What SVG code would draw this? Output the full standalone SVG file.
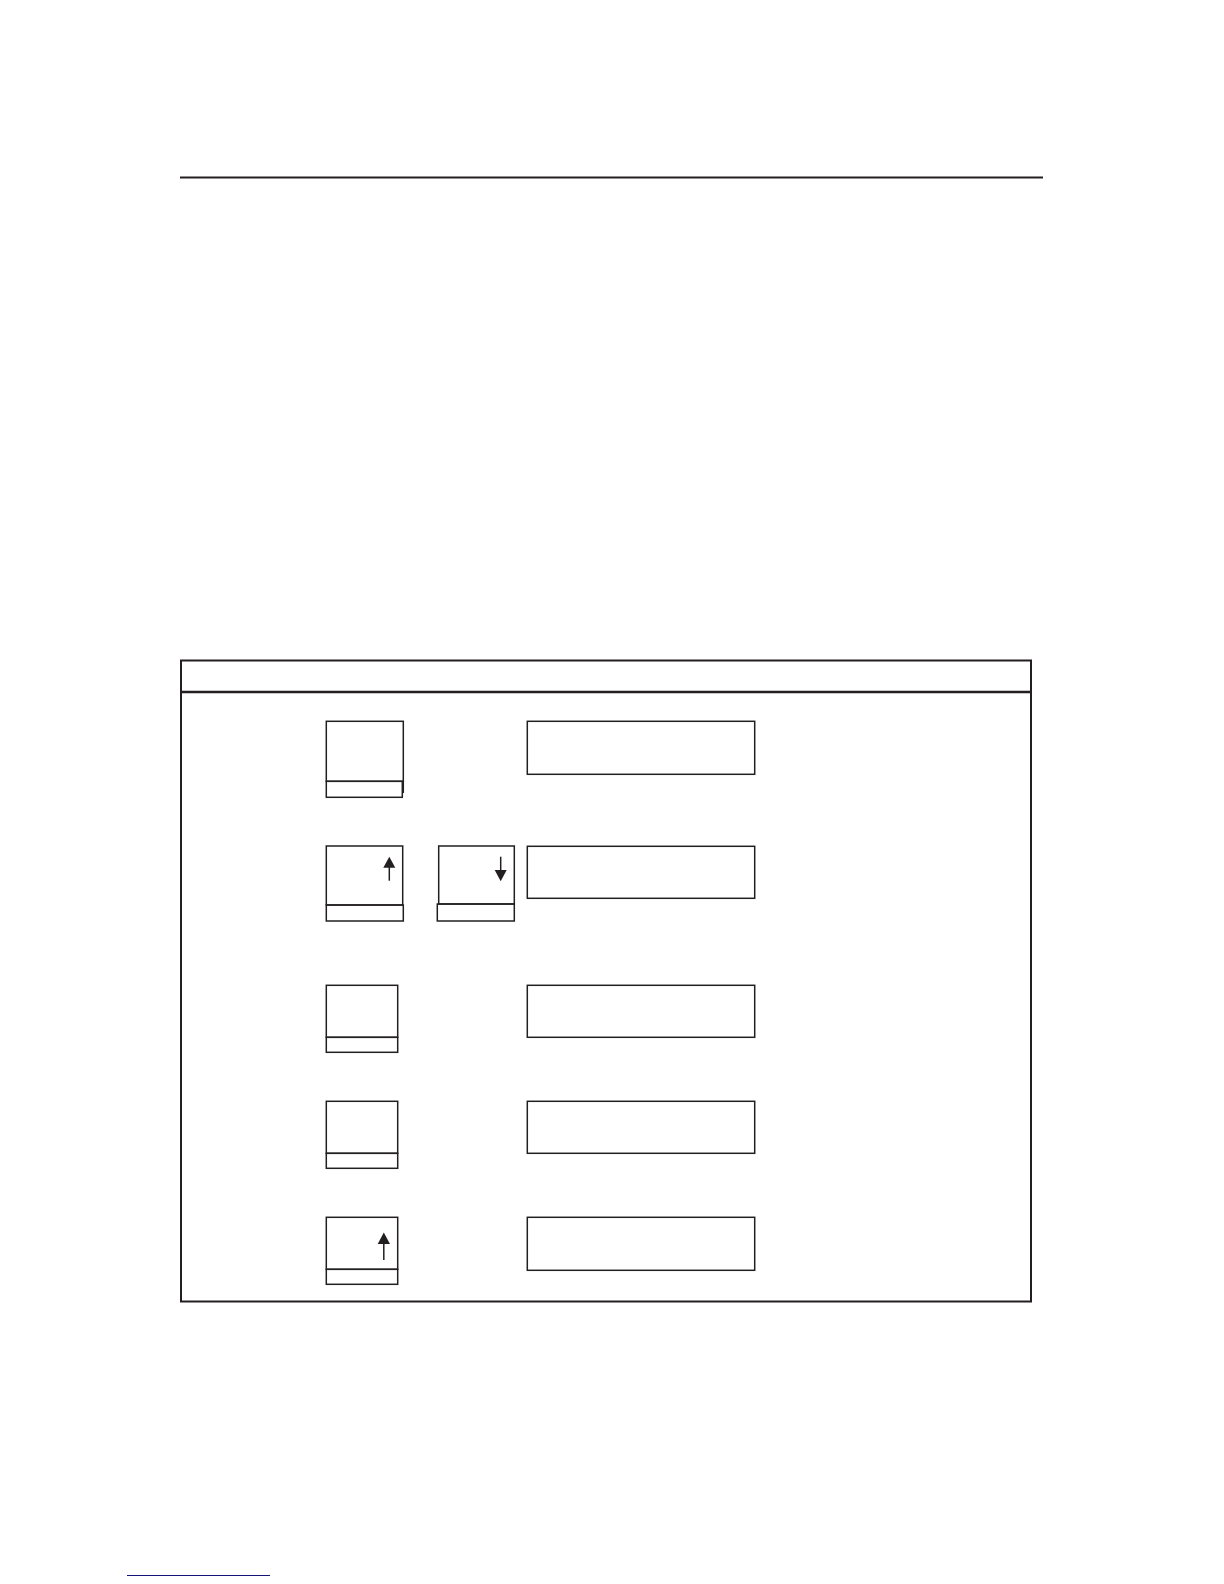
<svg xmlns="http://www.w3.org/2000/svg" width="1224" height="1584" viewBox="0 0 1224 1584">
<style>
.b{fill:none;stroke:#231f20;stroke-width:1.5}
.t{fill:none;stroke:#231f20;stroke-width:2}
.a{stroke:#231f20;stroke-width:1.5;fill:none}
.h{fill:#231f20;stroke:none}
</style>
<rect width="1224" height="1584" fill="#fff"/>
<line id="rule" x1="180" y1="177.5" x2="1043" y2="177.5" stroke="#231f20" stroke-width="2.2"/>
<g id="table">
<rect class="t" x="181" y="660.5" width="850" height="641"/>
<line x1="181" y1="692" x2="1031" y2="692" stroke="#231f20" stroke-width="2.4"/>
</g>
<g id="key1">
<rect class="b" x="326.3" y="721.3" width="77" height="60"/>
<rect class="b" x="326.3" y="781.3" width="76" height="16"/>
<line class="a" x1="403.3" y1="781" x2="403.3" y2="793"/>
</g>
<g id="display1"><rect class="b" x="527.3" y="721.3" width="227.4" height="53"/></g>
<g id="key2">
<rect class="b" x="326.3" y="846" width="76.4" height="59"/>
<rect class="b" x="326.3" y="905" width="77" height="16"/>
<line class="a" x1="389.3" y1="866" x2="389.3" y2="880.7"/>
<polygon class="h" points="389.3,856.8 383.3,867.7 395.3,867.7"/>
</g>
<g id="key3">
<rect class="b" x="438.7" y="846" width="75.6" height="58"/>
<rect class="b" x="437.3" y="904" width="77" height="17"/>
<line class="a" x1="500.7" y1="856.7" x2="500.7" y2="871"/>
<polygon class="h" points="494.7,870 506.7,870 500.7,881.2"/>
</g>
<g id="display2"><rect class="b" x="527.3" y="846.3" width="227.4" height="52"/></g>
<g id="key4">
<rect class="b" x="326.3" y="985.3" width="71.4" height="52"/>
<rect class="b" x="326.3" y="1037.3" width="71.4" height="15"/>
</g>
<g id="display3"><rect class="b" x="527.3" y="985.3" width="227.4" height="52"/></g>
<g id="key5">
<rect class="b" x="326.3" y="1101.3" width="71.4" height="52"/>
<rect class="b" x="326.3" y="1153.3" width="71.4" height="15"/>
</g>
<g id="display4"><rect class="b" x="527.3" y="1101.3" width="227.4" height="52"/></g>
<g id="key6">
<rect class="b" x="326.3" y="1217.3" width="71.4" height="52"/>
<rect class="b" x="326.3" y="1269.3" width="71.4" height="15"/>
<line class="a" x1="383.8" y1="1243" x2="383.8" y2="1260"/>
<polygon class="h" points="383.8,1232.4 377.7,1244 390,1244"/>
</g>
<g id="display5"><rect class="b" x="527.3" y="1217.3" width="227.4" height="53"/></g>
<g id="connectors"/>
<line id="footlink" x1="127" y1="1575.5" x2="270" y2="1575.5" stroke="#14147a" stroke-width="1.2"/>
</svg>
